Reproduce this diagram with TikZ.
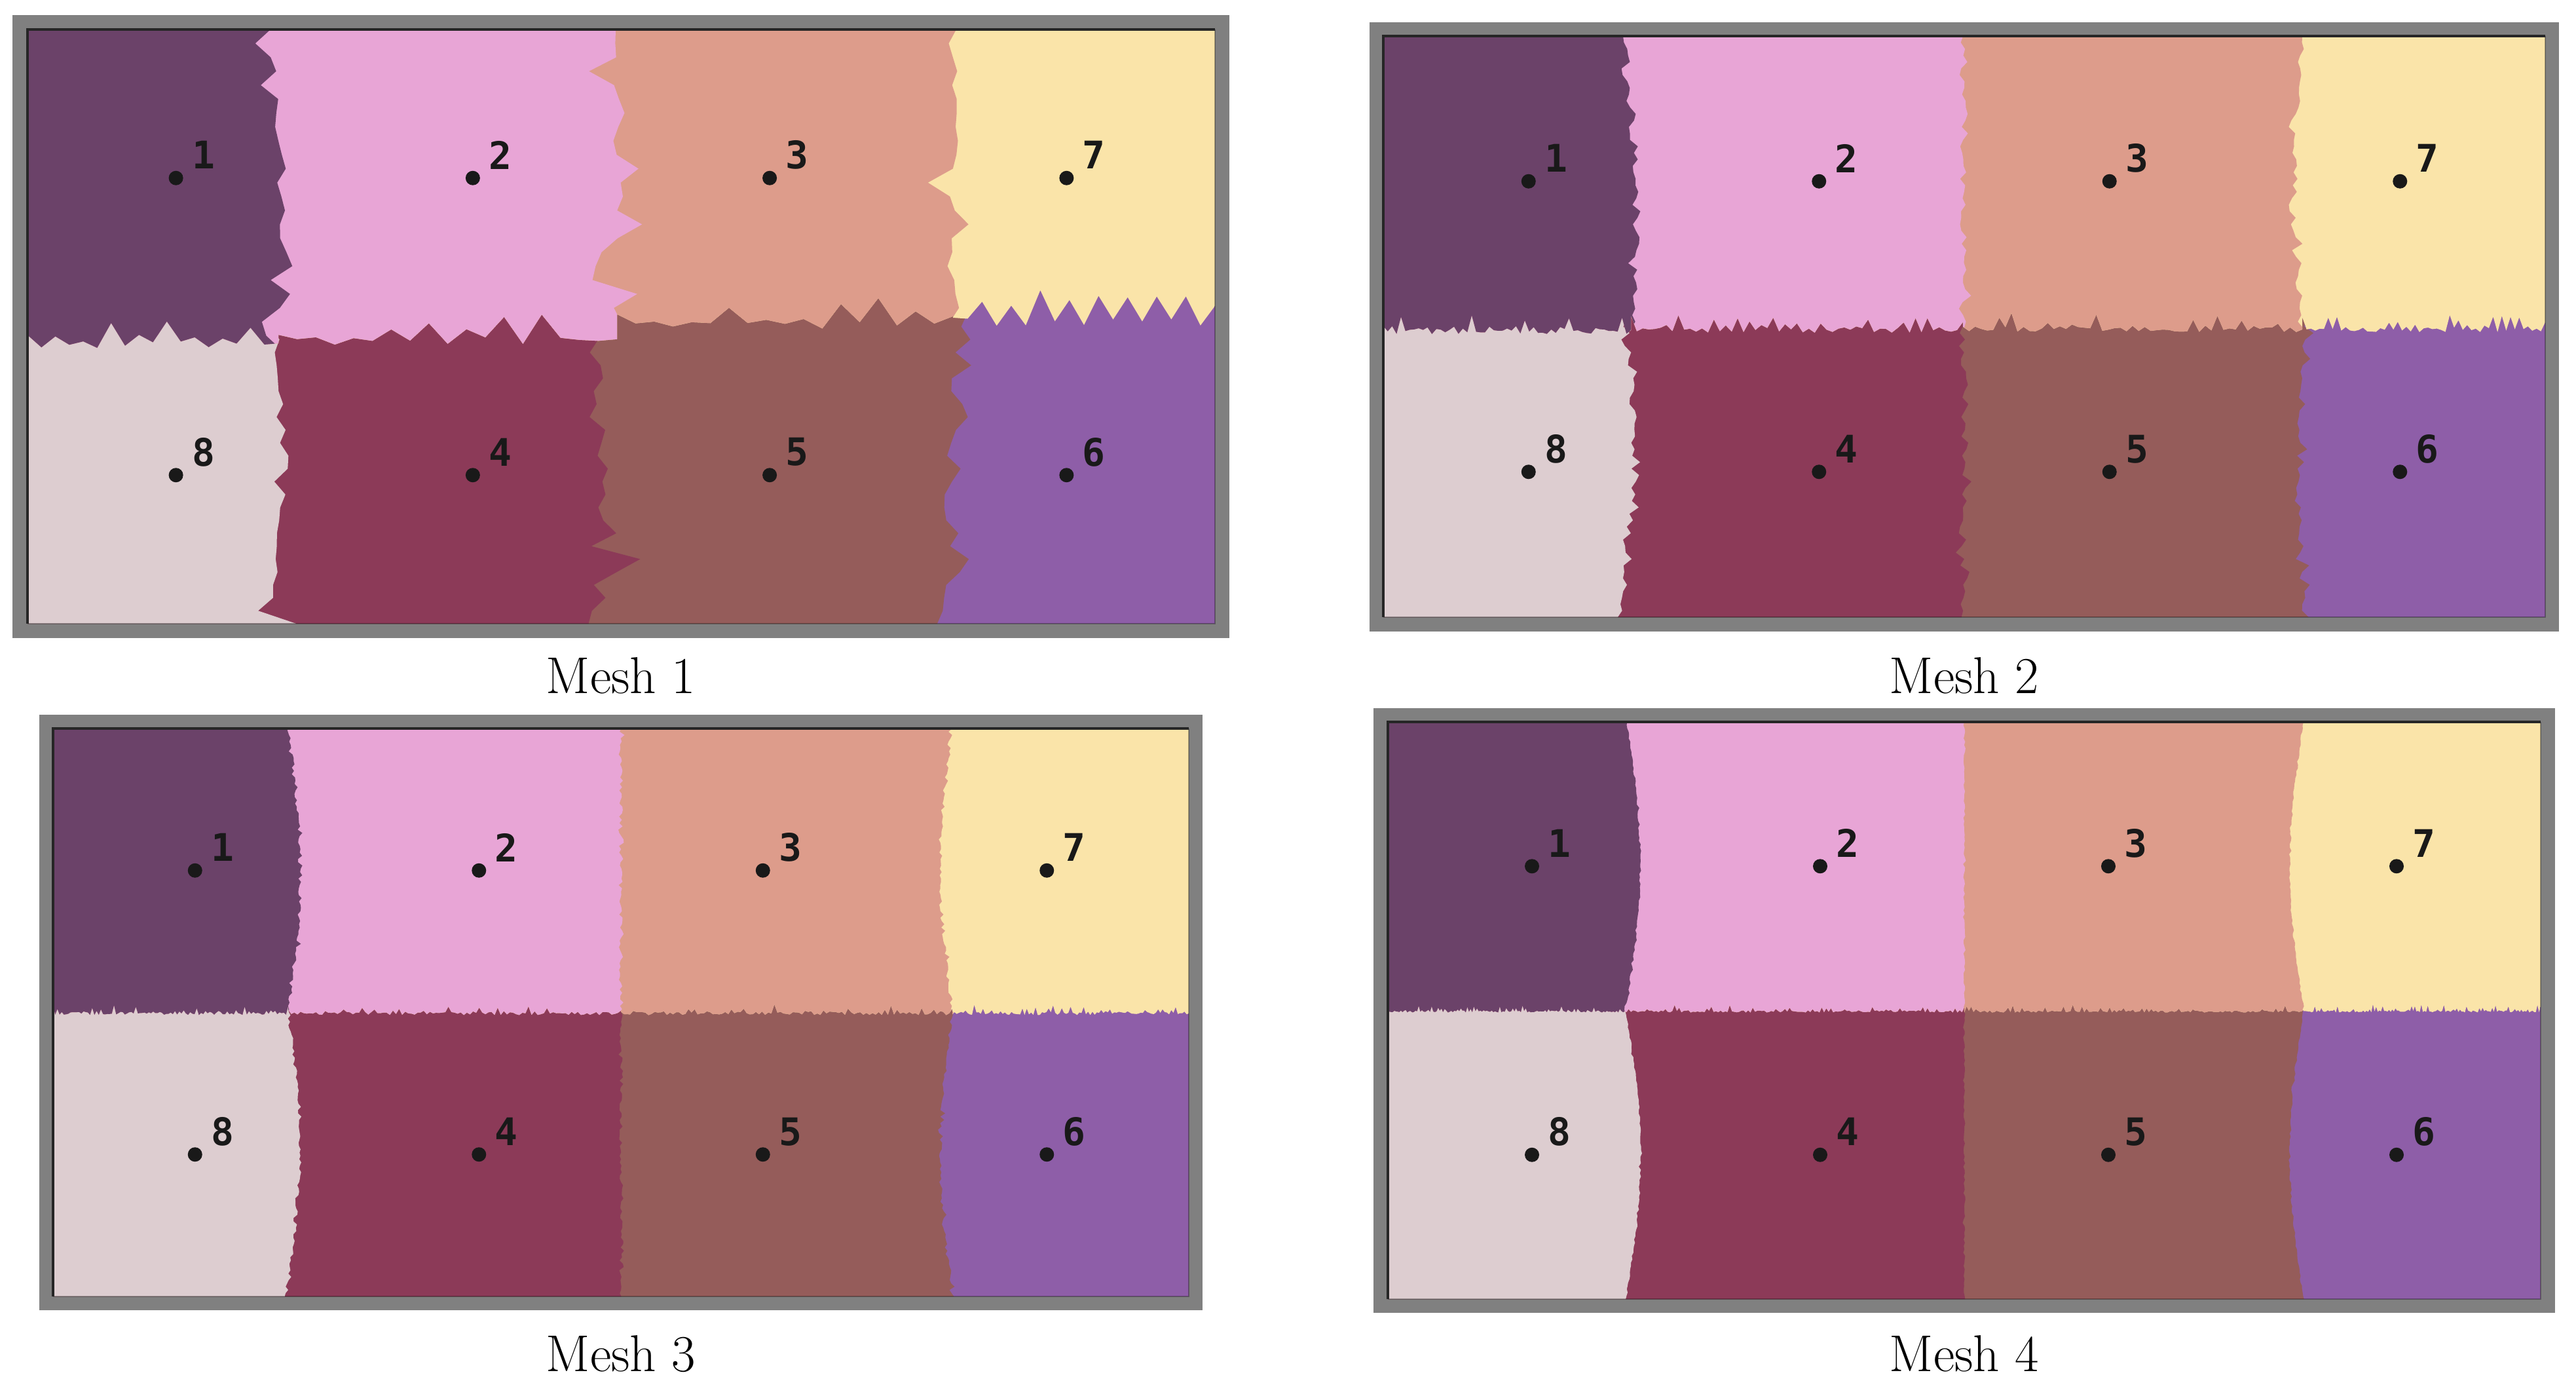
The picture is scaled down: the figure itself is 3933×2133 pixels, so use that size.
\documentclass[tikz,border=0pt]{standalone}
\usepackage{fontspec}
\newfontfamily\digfont{DejaVu Sans Mono}
\definecolor{cA}{HTML}{6B4269}
\definecolor{cB}{HTML}{E8A5D6}
\definecolor{cC}{HTML}{DD9C8B}
\definecolor{cG}{HTML}{FAE4A9}
\definecolor{cH}{HTML}{DDCDD0}
\definecolor{cD}{HTML}{8C3A58}
\definecolor{cE}{HTML}{955C5A}
\definecolor{cF}{HTML}{8E5EA8}
\definecolor{framegray}{HTML}{808080}
\tikzset{
  lab/.style={font=\digfont\bfseries\fontsize{16.5}{18}\selectfont, text=black!90, inner sep=0pt},
  seed/.style={circle, fill=black!90, minimum size=0.22cm, inner sep=0pt},
  meshcap/.style={font=\fontsize{22.5}{26}\selectfont, anchor=base, inner sep=0pt},
  edgeA/.style={line width=0.9pt, black!85},
  edgeB/.style={line width=0.6pt, black, opacity=0.3}
}
% jagged vertical boundary: colour, left edge, y0, y1, yb0, yb1, xa, xb, bulge
\newcommand\vcell[9]{%
  \pgfmathsetmacro\tA{(#3-#5)/(#6-#5)}%
  \pgfmathsetmacro\tB{(#4-#3)/(#6-#5)}%
  \pgfmathsetmacro\dY{#4-#3}%
  \pgfmathsetmacro\dX{#8-#7}%
  \fill[#1] (#2,#3) -- ({#7+\dX*\tA+#9*sin(180*\tA)},#3)
    foreach \k in {1,...,\N}{ -- ({#7+\dX*(\tA+\tB*(\k/\N))+#9*sin(180*(\tA+\tB*(\k/\N)))+\Amp*rand+\Spk*rand*rand*rand},{#3+\dY*(\k/\N)}) }
    -- (#2,#4) -- cycle;}
% jagged horizontal segment (expandable, for use inside a path)
\def\hseg#1#2#3{foreach \k in {0,...,\M}{ -- ({#1+(#2-#1)*(\k/\M)},{#3+\HAmp*rand-\HSpk*pow(rnd,\HPow)*(1-mod(\k,2))}) }}
% seeds and labels
\newcommand\seeds[5]{%
  \pgfmathsetmacro\sdcw{(#3-#2)/4}%
  \pgfmathsetmacro\sdrh{(#5-#4)/2}%
  \foreach \lab [count=\i from 0] in {1,2,3,7,8,4,5,6}{%
    \pgfmathsetmacro\sdx{#2+\sdcw*(mod(\i,4)+0.5)}%
    \pgfmathsetmacro\sdy{#4+\sdrh*(floor(\i/4)+0.5)}%
    \node[seed] (#1d\lab) at (\sdx,\sdy) {};
    \node[lab] (#1l\lab) at (\sdx+42,\sdy-35) {\lab};
  }}
\begin{document}
\begin{tikzpicture}[x=0.01cm,y=-0.01cm]
\pgfmathsetseed{4711}
\useasboundingbox (0,0) rectangle (3933,2133);

% ================= Mesh 1 =================
\fill[framegray] (19,23) rectangle (1877,974);
\def\N{28}\def\Amp{5}\def\Spk{80}
\fill[cF] (42,45) rectangle (1855,952);
\vcell{cE}{42}{400}{952}{510}{952}{1470}{1455}{-15}
\vcell{cD}{42}{400}{952}{510}{952}{912}{904}{5}
\vcell{cH}{42}{400}{952}{510}{952}{418}{408}{20}
\begin{scope}
\def\M{18}\def\HAmp{6}\def\HSpk{50}\def\HPow{1.6}
\clip (42,45) -- (1855,45) \hseg{1855}{1455}{492} \hseg{1455}{942}{497} \hseg{942}{425}{520} \hseg{425}{42}{527} -- cycle;
\fill[cG] (42,45) rectangle (1855,640);
\vcell{cC}{42}{45}{640}{45}{510}{1460}{1455}{0}
\vcell{cB}{42}{45}{640}{45}{510}{940}{945}{0}
\vcell{cA}{42}{45}{640}{45}{510}{413}{425}{10}
\end{scope}
\draw[edgeB] (1855,45) -- (1855,952) -- (42,952);
\draw[edgeA] (42,952) -- (42,45) -- (1855,45);
\seeds{m1}{42}{1855}{45}{952}
\node[meshcap] (cap1) at (948,1058) {Mesh 1};

% ================= Mesh 2 =================
\fill[framegray] (2091,34) rectangle (3907,964);
\def\N{55}\def\Amp{5}\def\Spk{18}
\fill[cF] (2112,55) rectangle (3886,942);
\vcell{cE}{2112}{400}{942}{500}{942}{3520}{3522}{-12}
\vcell{cD}{2112}{400}{942}{500}{942}{2997}{2997}{0}
\vcell{cH}{2112}{400}{942}{500}{942}{2485}{2472}{15}
\begin{scope}
\def\M{56}\def\HAmp{4}\def\HSpk{25}\def\HPow{2}
\clip (2112,55) -- (3886,55) \hseg{3886}{3515}{503} \hseg{3515}{2997}{503} \hseg{2997}{2490}{504} \hseg{2490}{2112}{506} -- cycle;
\fill[cG] (2112,55) rectangle (3886,600);
\vcell{cC}{2112}{55}{600}{55}{500}{3515}{3515}{-12}
\vcell{cB}{2112}{55}{600}{55}{500}{2997}{2997}{0}
\vcell{cA}{2112}{55}{600}{55}{500}{2478}{2490}{12}
\end{scope}
\draw[edgeB] (3886,55) -- (3886,942) -- (2112,942);
\draw[edgeA] (2112,942) -- (2112,55) -- (3886,55);
\seeds{m2}{2112}{3886}{55}{942}
\node[meshcap] (cap2) at (2999,1058) {Mesh 2};

% ================= Mesh 3 =================
\fill[framegray] (60,1091) rectangle (1836,2000);
\def\N{107}\def\Amp{2.5}\def\Spk{6}
\fill[cF] (81,1112) rectangle (1815,1979);
\vcell{cE}{81}{1445}{1979}{1545}{1979}{1454}{1454}{-18}
\vcell{cD}{81}{1445}{1979}{1545}{1979}{948}{948}{0}
\vcell{cH}{81}{1445}{1979}{1545}{1979}{440}{436}{20}
\begin{scope}
\def\M{108}\def\HAmp{2.5}\def\HSpk{12}\def\HPow{3}
\clip (81,1112) -- (1815,1112) \hseg{1815}{1454}{1547} \hseg{1454}{948}{1547} \hseg{948}{440}{1547} \hseg{440}{81}{1547} -- cycle;
\fill[cG] (81,1112) rectangle (1815,1645);
\vcell{cC}{81}{1112}{1645}{1112}{1545}{1454}{1454}{-18}
\vcell{cB}{81}{1112}{1645}{1112}{1545}{948}{948}{0}
\vcell{cA}{81}{1112}{1645}{1112}{1545}{438}{440}{20}
\end{scope}
\draw[edgeB] (1815,1112) -- (1815,1979) -- (81,1979);
\draw[edgeA] (81,1979) -- (81,1112) -- (1815,1112);
\seeds{m3}{81}{1815}{1112}{1979}
\node[meshcap] (cap3) at (948,2093) {Mesh 3};

% ================= Mesh 4 =================
\fill[framegray] (2097,1081) rectangle (3901,2004);
\def\N{107}\def\Amp{1.2}\def\Spk{3}
\fill[cF] (2119,1102) rectangle (3879,1983);
\vcell{cE}{2119}{1442}{1983}{1542}{1983}{3517}{3517}{-21}
\vcell{cD}{2119}{1442}{1983}{1542}{1983}{2999}{2999}{0}
\vcell{cH}{2119}{1442}{1983}{1542}{1983}{2482}{2482}{23}
\begin{scope}
\def\M{147}\def\HAmp{1.5}\def\HSpk{10}\def\HPow{3}
\clip (2119,1102) -- (3879,1102) \hseg{3879}{3517}{1544} \hseg{3517}{2999}{1544} \hseg{2999}{2483}{1544} \hseg{2483}{2119}{1544} -- cycle;
\fill[cG] (2119,1102) rectangle (3879,1642);
\vcell{cC}{2119}{1102}{1642}{1102}{1542}{3517}{3517}{-21}
\vcell{cB}{2119}{1102}{1642}{1102}{1542}{2999}{2999}{0}
\vcell{cA}{2119}{1102}{1642}{1102}{1542}{2484}{2482}{21}
\end{scope}
\draw[edgeB] (3879,1102) -- (3879,1983) -- (2119,1983);
\draw[edgeA] (2119,1983) -- (2119,1102) -- (3879,1102);
\seeds{m4}{2119}{3879}{1102}{1983}
\node[meshcap] (cap4) at (2999,2093) {Mesh 4};
\end{tikzpicture}
\end{document}
